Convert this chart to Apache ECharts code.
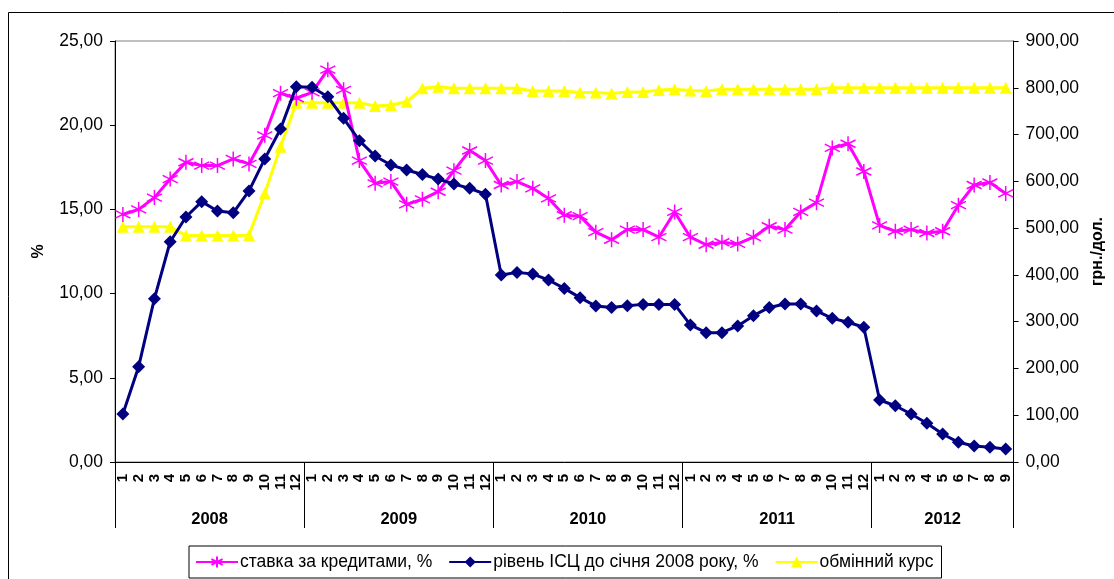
<!DOCTYPE html>
<html>
<head>
<meta charset="utf-8">
<script src="https://cdn.jsdelivr.net/npm/echarts@6/dist/echarts.min.js"></script>
<style>
  html, body { margin: 0; padding: 0; background: #fff; }
  #main { width: 1114px; height: 579px; }
</style>
</head>
<body>
<div id="main"></div>
<script>
var years = ['2008', '2009', '2010', '2011', '2012'];
var monthsPerYear = [12, 12, 12, 12, 9];

// ставка за кредитами, %
var loanRate = [
  14.7, 15.0, 15.7, 16.8, 17.8, 17.6, 17.6, 18.0, 17.7, 19.4, 21.9, 21.6,
  21.95, 23.3, 22.1, 17.9, 16.55, 16.65, 15.3, 15.6, 16.05, 17.3, 18.5, 17.9,
  16.45, 16.65, 16.25, 15.65, 14.65, 14.6, 13.65, 13.2, 13.8, 13.8, 13.35, 14.85,
  13.35, 12.9, 13.05, 12.95, 13.35, 14.0, 13.8, 14.85, 15.4, 18.65, 18.9, 17.25,
  14.05, 13.7, 13.8, 13.6, 13.7, 15.25, 16.45, 16.6, 15.95
];
// рівень ІСЦ до січня 2008 року, %
var cpiLevel = [
  2.85, 5.66, 9.7, 13.08, 14.55, 15.46, 14.9, 14.8, 16.1, 18.0, 19.77, 22.29,
  22.25, 21.69, 20.41, 19.08, 18.17, 17.64, 17.34, 17.07, 16.8, 16.51, 16.25, 15.9,
  11.1, 11.26, 11.16, 10.81, 10.31, 9.76, 9.26, 9.18, 9.28, 9.36, 9.36, 9.36,
  8.14, 7.68, 7.68, 8.08, 8.69, 9.18, 9.38, 9.38, 8.97, 8.53, 8.3, 8.0,
  3.68, 3.34, 2.85, 2.3, 1.66, 1.17, 0.95, 0.87, 0.77
];
// обмінний курс
var exchangeRate = [
  503, 503, 503, 503, 484, 484, 484, 484, 485, 574, 674, 768,
  768, 768, 768, 768, 761, 763, 770, 799, 802, 799, 799, 799,
  799, 799, 793, 793, 793, 790, 790, 788, 791, 791, 795, 797,
  794, 793, 797, 797, 797, 797, 797, 797, 797, 800, 800, 800,
  800, 800, 800, 800, 800, 800, 800, 800, 800
];

var seriesNames = ['ставка за кредитами, %', 'рівень ІСЦ до січня 2008 року, %', 'обмінний курс'];

// month categories and year boundaries / centres
var months = [];
var yearBounds = [0];
var yearCenters = [];
var pos = 0;
monthsPerYear.forEach(function (n) {
  for (var m = 1; m <= n; m++) months.push(String(m));
  yearCenters.push(pos + n / 2);
  pos += n;
  yearBounds.push(pos);
});

function comma(v) { return v.toFixed(2).replace('.', ','); }

var asterisk = 'path://M0,-6L0,6M-5.2,-3L5.2,3M-5.2,3L5.2,-3';
var font = 'Liberation Sans, Arial, sans-serif';

var myChart = echarts.init(document.getElementById('main'));
var option = {
  animation: false,
  textStyle: { fontFamily: font },
  graphic: [{
    type: 'rect',
    shape: { x: 8.5, y: 12.5, width: 1200, height: 700 },
    style: { fill: 'none', stroke: '#000', lineWidth: 1 },
    silent: true
  }],
  grid: {
    left: 115, right: 99, top: 41, bottom: 117,
    show: true, borderColor: '#808080', borderWidth: 1, backgroundColor: 'transparent'
  },
  legend: {
    bottom: 1, left: 189,
    borderColor: '#000', borderWidth: 1, borderRadius: 0,
    padding: [7, 8, 7, 6],
    itemGap: 16, itemWidth: 42, itemHeight: 14,
    textStyle: { fontFamily: font, fontSize: 17.5, color: '#000', padding: [0, 0, 0, -3] },
    data: seriesNames
  },
  xAxis: [{
    type: 'category',
    data: months,
    boundaryGap: true,
    axisLine: { lineStyle: { color: '#000', width: 1 } },
    axisTick: { length: 31, lineStyle: { color: '#000' } },
    axisLabel: {
      rotate: 90, interval: 0, margin: 12,
      fontFamily: font, fontSize: 15, fontWeight: 'bold', color: '#000'
    }
  }, {
    type: 'value',
    position: 'bottom',
    min: 0, max: months.length,
    axisLine: { show: false },
    splitLine: { show: false },
    axisTick: { show: true, customValues: yearBounds, length: 66, lineStyle: { color: '#000' } },
    axisLabel: {
      customValues: yearCenters, margin: 49,
      fontFamily: font, fontSize: 16.5, fontWeight: 'bold', color: '#000',
      formatter: function (v) {
        var k = yearCenters.indexOf(v);
        return k >= 0 ? years[k] : '';
      }
    }
  }],
  yAxis: [{
    type: 'value',
    min: 0, max: 25, interval: 5,
    name: '%', nameLocation: 'middle', nameGap: 68, nameRotate: 90,
    nameTextStyle: { fontFamily: font, fontSize: 16, fontWeight: 'bold', color: '#000' },
    axisLine: { show: true, lineStyle: { color: '#000' } },
    axisTick: { show: true, length: 5, lineStyle: { color: '#000' } },
    splitLine: { show: false },
    axisLabel: { margin: 12, fontFamily: font, fontSize: 17.5, color: '#000', formatter: comma }
  }, {
    type: 'value',
    position: 'right',
    min: 0, max: 900, interval: 100,
    name: 'грн./дол.', nameLocation: 'middle', nameGap: 76, nameRotate: 90,
    nameTextStyle: { fontFamily: font, fontSize: 16, fontWeight: 'bold', color: '#000' },
    axisLine: { show: true, lineStyle: { color: '#000' } },
    axisTick: { show: true, length: 5, lineStyle: { color: '#000' } },
    splitLine: { show: false },
    axisLabel: { margin: 12, fontFamily: font, fontSize: 17.5, color: '#000', formatter: comma }
  }],
  series: [{
    name: seriesNames[0],
    type: 'line',
    yAxisIndex: 0,
    data: loanRate,
    symbol: asterisk,
    symbolSize: 15,
    color: '#FF00FF',
    itemStyle: { color: '#FF00FF', borderColor: '#FF00FF', borderWidth: 1.5 },
    lineStyle: { color: '#FF00FF', width: 3 },
    z: 3
  }, {
    name: seriesNames[1],
    type: 'line',
    yAxisIndex: 0,
    data: cpiLevel,
    symbol: 'diamond',
    symbolSize: 13,
    color: '#000080',
    itemStyle: { color: '#000080' },
    lineStyle: { color: '#000080', width: 3 },
    z: 4
  }, {
    name: seriesNames[2],
    type: 'line',
    yAxisIndex: 1,
    data: exchangeRate,
    symbol: 'triangle',
    symbolSize: 12,
    color: '#FFFF00',
    itemStyle: { color: '#FFFF00' },
    lineStyle: { color: '#FFFF00', width: 3 },
    z: 2
  }]
};

option && myChart.setOption(option);
</script>
</body>
</html>
